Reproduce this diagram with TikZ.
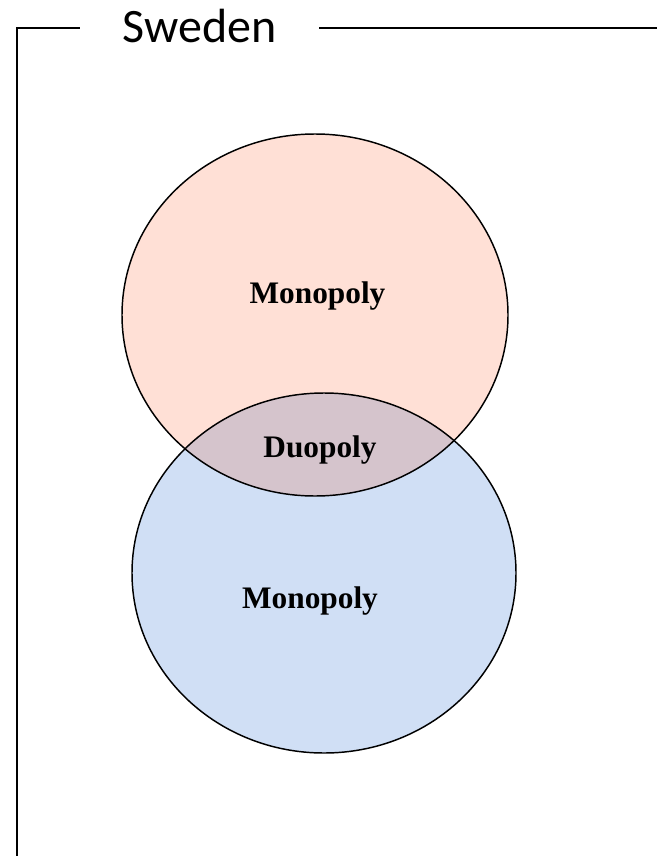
\documentclass[tikz,border=0pt]{standalone}
\usepackage{fontspec}
\setmainfont{Liberation Serif}
\newfontfamily\labelsans{Carlito}
\begin{document}
\begin{tikzpicture}[x=0.75pt,y=-0.75pt,
  frameline/.style={line width=1.5pt,black},
  ring/.style={line width=1.1pt,black},
  marketlabel/.style={font=\fontsize{23.5}{28}\selectfont\bfseries,anchor=base,inner sep=0pt}]
  \definecolor{peach}{RGB}{255,224,214}
  \definecolor{skyblue}{RGB}{208,223,245}
  \definecolor{overlap}{RGB}{213,196,204}
  \useasboundingbox (0,0) rectangle (657,856);

  % circle centres
  \coordinate (ctop) at (315,315);
  \coordinate (cbot) at (324,573);

  % fills
  \fill[skyblue] (cbot) ellipse [x radius=144pt, y radius=135pt];
  \fill[peach] (ctop) ellipse [x radius=144.75pt, y radius=135.75pt];
  \begin{scope}
    \clip (ctop) ellipse [x radius=144.75pt, y radius=135.75pt];
    \fill[overlap] (cbot) ellipse [x radius=144pt, y radius=135pt];
  \end{scope}
  % outlines
  \draw[ring] (cbot) ellipse [x radius=144pt, y radius=135pt];
  \draw[ring] (ctop) ellipse [x radius=144.75pt, y radius=135.75pt];

  % labels
  \node[marketlabel] (montop) at (317.5,303) {Monopoly};
  \node[marketlabel] (duo) at (320,457) {Duopoly};
  \node[marketlabel] (monbot) at (310,608) {Monopoly};

  % frame with title
  \node[font=\labelsans\fontsize{36}{40}\selectfont,anchor=base,inner sep=0pt] (title) at (199.5,43) {Sweden};
  \coordinate (fbl) at (17,856);
  \coordinate (ftl) at (17,28);
  \coordinate (fl) at (80,28);
  \coordinate (fr) at (319,28);
  \coordinate (fre) at (657,28);
  \draw[frameline] (fbl) -- (ftl) -- (fl);
  \draw[frameline] (fr) -- (fre);
\end{tikzpicture}
\end{document}
